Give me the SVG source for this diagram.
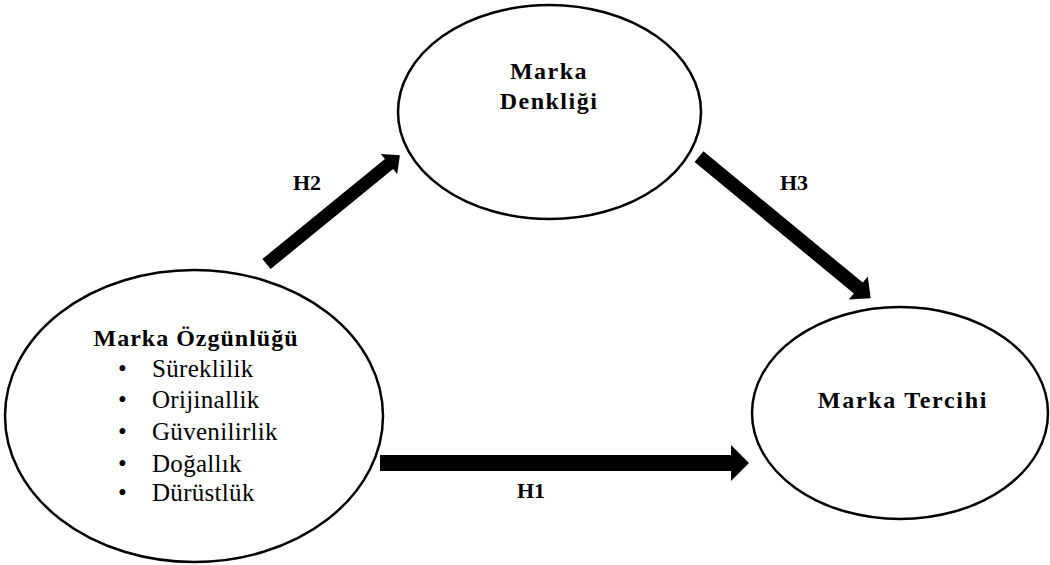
<svg xmlns="http://www.w3.org/2000/svg" width="1050" height="565" viewBox="0 0 1050 565">
<style>
.node ellipse{fill:#fff;stroke:#000;stroke-width:2.5}
.b{font-family:"Liberation Serif","Times New Roman",serif;font-weight:bold;font-size:24px;fill:#000}
.r{font-family:"Liberation Serif","Times New Roman",serif;font-size:25px;fill:#000}
.h{font-family:"Liberation Serif","Times New Roman",serif;font-weight:bold;font-size:22px;fill:#000}
.arrow{fill:#000}
</style>
<rect width="1050" height="565" fill="#fff"/>
<g id="connectors">
<polygon class="arrow" points="270.6,269 393.1,169 397.2,174.1 399.9,155.2 380.8,153.9 384.9,159 262.4,259"/>
<polygon class="arrow" points="694.55,162.1 853.85,293.4 848.8,299.6 870.7,298.2 867.8,276.4 862.75,282.6 703.45,151.3"/>
<polygon class="arrow" points="380,455 731,455 731,445 749,463 731,481 731,471 380,471"/>
<text class="h" x="293" y="190">H2</text>
<text class="h" x="780" y="190">H3</text>
<text class="h" x="517" y="498">H1</text>
</g>
<g id="node-ozgunluk" class="node">
<ellipse cx="194" cy="416" rx="189" ry="146"/>
<text class="b" x="196" y="346" text-anchor="middle" letter-spacing="1">Marka Özgünlüğü</text>
<g class="r">
<text x="118" y="377">•</text><text x="152" y="377" letter-spacing="0.3">Süreklilik</text>
<text x="118" y="408">•</text><text x="152" y="408" letter-spacing="0.3">Orijinallik</text>
<text x="118" y="440">•</text><text x="152" y="440" letter-spacing="0.3">Güvenilirlik</text>
<text x="118" y="472">•</text><text x="152" y="472" letter-spacing="0.3">Doğallık</text>
<text x="118" y="501">•</text><text x="152" y="501" letter-spacing="0.3">Dürüstlük</text>
</g>
</g>
<g id="node-denklik" class="node">
<ellipse cx="549.5" cy="112" rx="151.5" ry="107"/>
<text class="b" x="549" y="79" text-anchor="middle" letter-spacing="1.5">Marka</text>
<text class="b" x="549" y="109" text-anchor="middle" letter-spacing="1.5">Denkliği</text>
</g>
<g id="node-tercih" class="node">
<ellipse cx="900" cy="413" rx="148" ry="106"/>
<text class="b" x="903" y="408" text-anchor="middle" letter-spacing="1.7">Marka Tercihi</text>
</g>
</svg>
